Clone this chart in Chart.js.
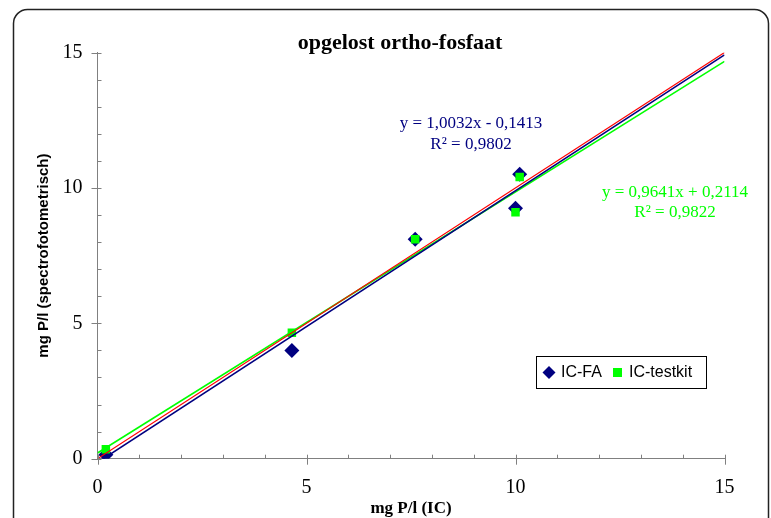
<!DOCTYPE html>
<html>
<head>
<meta charset="utf-8">
<script src="https://cdn.jsdelivr.net/npm/chart.js@4/dist/chart.umd.min.js"></script>
<style>
  html, body { margin: 0; padding: 0; background: #fff; }
  #wrap { width: 771px; height: 518px; }
</style>
</head>
<body>
<div id="wrap"><canvas id="grafiek" width="771" height="518"></canvas></div>
<script>
// teksten
const titel = 'opgelost ortho-fosfaat';
const xTitel = 'mg P/l (IC)';
const yTitel = 'mg P/l (spectrofotometrisch)';
const reeksNamen = ['IC-FA', 'IC-testkit'];

const icX = [0.2, 4.65, 7.6, 10.0, 10.1];
const faY = [0.15, 4.0, 8.1, 9.25, 10.5];
const testkitY = [0.35, 4.65, 8.1, 9.1, 10.4];

const lijnX = [0, 15];
const lijn11Y = [0, 15];
const trendFaY = [-0.14, 14.91];
const trendKitY = [0.21, 14.67];

// vergelijkingen
const vergFa = ['y = 1,0032x - 0,1413', 'R² = 0,9802'];
const vergKit = ['y = 0,9641x + 0,2114', 'R² = 0,9822'];

// assen
const asMin = 0;
const asMax = 15;
const asStap = 5;

const kleurFa = '#000080';
const kleurKit = '#00ff00';
const kleurLijn = '#ff0000';
const asKleur = '#808080';

function punten(xs, ys) {
  return xs.map((x, i) => ({ x: x, y: ys[i] }));
}

const extraTekening = {
  id: 'extraTekening',
  beforeDraw(chart) {
    const ctx = chart.ctx;
    ctx.save();
    ctx.fillStyle = '#fff';
    ctx.fillRect(0, 0, chart.width, chart.height);
    ctx.restore();
  },
  afterDraw(chart) {
    const ctx = chart.ctx;
    const xs = chart.scales.x;
    const ys = chart.scales.y;
    const area = chart.chartArea;
    ctx.save();

    // streepjes op de assen
    ctx.strokeStyle = asKleur;
    ctx.lineWidth = 1;
    ctx.beginPath();
    for (let v = asMin; v <= asMax; v++) {
      const hoofd = v % asStap === 0;
      const px = Math.round(xs.getPixelForValue(v)) + 0.5;
      ctx.moveTo(px, area.bottom - 4);
      ctx.lineTo(px, area.bottom + (hoofd ? 6 : 0));
      const py = Math.round(ys.getPixelForValue(v)) + 0.5;
      ctx.moveTo(area.left + 4, py);
      ctx.lineTo(area.left - (hoofd ? 6 : 0), py);
    }
    ctx.stroke();

    // titel
    ctx.fillStyle = '#000';
    ctx.font = 'bold 22px "Liberation Serif"';
    ctx.textAlign = 'center';
    ctx.textBaseline = 'alphabetic';
    ctx.fillText(titel, 400, 49);

    // vergelijkingen
    ctx.font = '17px "Liberation Serif"';
    ctx.textBaseline = 'middle';
    ctx.fillStyle = kleurFa;
    ctx.fillText(vergFa[0], 471, 124);
    ctx.fillText(vergFa[1], 471, 145);
    ctx.fillStyle = kleurKit;
    ctx.fillText(vergKit[0], 675, 193);
    ctx.fillText(vergKit[1], 675, 213);

    // legenda
    ctx.strokeStyle = '#000';
    ctx.lineWidth = 1;
    ctx.strokeRect(536.5, 356.5, 170, 32);
    ctx.fillStyle = kleurFa;
    ctx.beginPath();
    ctx.moveTo(549, 366);
    ctx.lineTo(555.5, 372.5);
    ctx.lineTo(549, 379);
    ctx.lineTo(542.5, 372.5);
    ctx.closePath();
    ctx.fill();
    ctx.fillStyle = kleurKit;
    ctx.fillRect(613, 368, 9, 9);
    ctx.fillStyle = '#000';
    ctx.font = '16px "Liberation Sans"';
    ctx.textAlign = 'left';
    ctx.fillText(reeksNamen[0], 561, 373);
    ctx.fillText(reeksNamen[1], 629, 373);

    // afgeronde rand
    ctx.strokeStyle = '#222';
    ctx.lineWidth = 1.5;
    const l = 13.5, t = 9.5, r = 768.5, b = 540, rad = 14;
    ctx.beginPath();
    ctx.moveTo(l + rad, t);
    ctx.lineTo(r - rad, t);
    ctx.arcTo(r, t, r, t + rad, rad);
    ctx.lineTo(r, b);
    ctx.moveTo(l, b);
    ctx.lineTo(l, t + rad);
    ctx.arcTo(l, t, l + rad, t, rad);
    ctx.stroke();

    ctx.restore();
  }
};

const ctx = document.getElementById('grafiek').getContext('2d');
const chart = new Chart(ctx, {
  type: 'scatter',
  data: {
    datasets: [
      {
        label: '1:1',
        data: punten(lijnX, lijn11Y),
        showLine: true,
        borderColor: kleurLijn,
        borderWidth: 1.2,
        pointRadius: 0
      },
      {
        label: 'trend ' + reeksNamen[0],
        data: punten(lijnX, trendFaY),
        showLine: true,
        borderColor: kleurFa,
        borderWidth: 1.6,
        pointRadius: 0
      },
      {
        label: 'trend ' + reeksNamen[1],
        data: punten(lijnX, trendKitY),
        showLine: true,
        borderColor: kleurKit,
        borderWidth: 1.6,
        pointRadius: 0
      },
      {
        label: reeksNamen[1],
        data: punten(icX, testkitY),
        pointStyle: 'rect',
        pointRadius: 6,
        pointBackgroundColor: kleurKit,
        pointBorderColor: kleurKit,
        pointBorderWidth: 0
      },
      {
        label: reeksNamen[0],
        data: punten(icX, faY),
        pointStyle: 'rectRot',
        pointRadius: 7.5,
        pointBackgroundColor: kleurFa,
        pointBorderColor: kleurFa,
        pointBorderWidth: 0
      }
    ]
  },
  options: {
    responsive: false,
    animation: false,
    devicePixelRatio: 1,
    layout: { padding: { top: 52.5, right: 46.5, left: 0, bottom: 0 } },
    plugins: {
      legend: { display: false },
      tooltip: { enabled: false },
      title: { display: false }
    },
    scales: {
      x: {
        type: 'linear',
        min: asMin,
        max: asMax,
        ticks: {
          stepSize: asStap,
          color: '#000',
          padding: 17,
          maxRotation: 0,
          font: { family: 'Liberation Serif', size: 20 }
        },
        grid: { display: false, drawTicks: false },
        border: { display: true, color: asKleur, width: 1 },
        title: {
          display: true,
          text: xTitel,
          color: '#000',
          font: { family: 'Liberation Serif', size: 17, weight: 'bold' },
          padding: { top: 0, bottom: -1 }
        },
        afterFit(s) { s.height = 518 - 458.7; }
      },
      y: {
        type: 'linear',
        min: asMin,
        max: asMax,
        ticks: {
          stepSize: asStap,
          color: '#000',
          padding: 15,
          font: { family: 'Liberation Serif', size: 20 }
        },
        grid: { display: false, drawTicks: false },
        border: { display: true, color: asKleur, width: 1 },
        title: {
          display: true,
          text: yTitel,
          color: '#000',
          font: { family: 'Liberation Sans', size: 15, weight: 'bold' },
          padding: { top: 34.5, bottom: 0 }
        },
        afterFit(s) { s.width = 97.5; }
      }
    }
  },
  plugins: [extraTekening]
});
</script>
</body>
</html>
